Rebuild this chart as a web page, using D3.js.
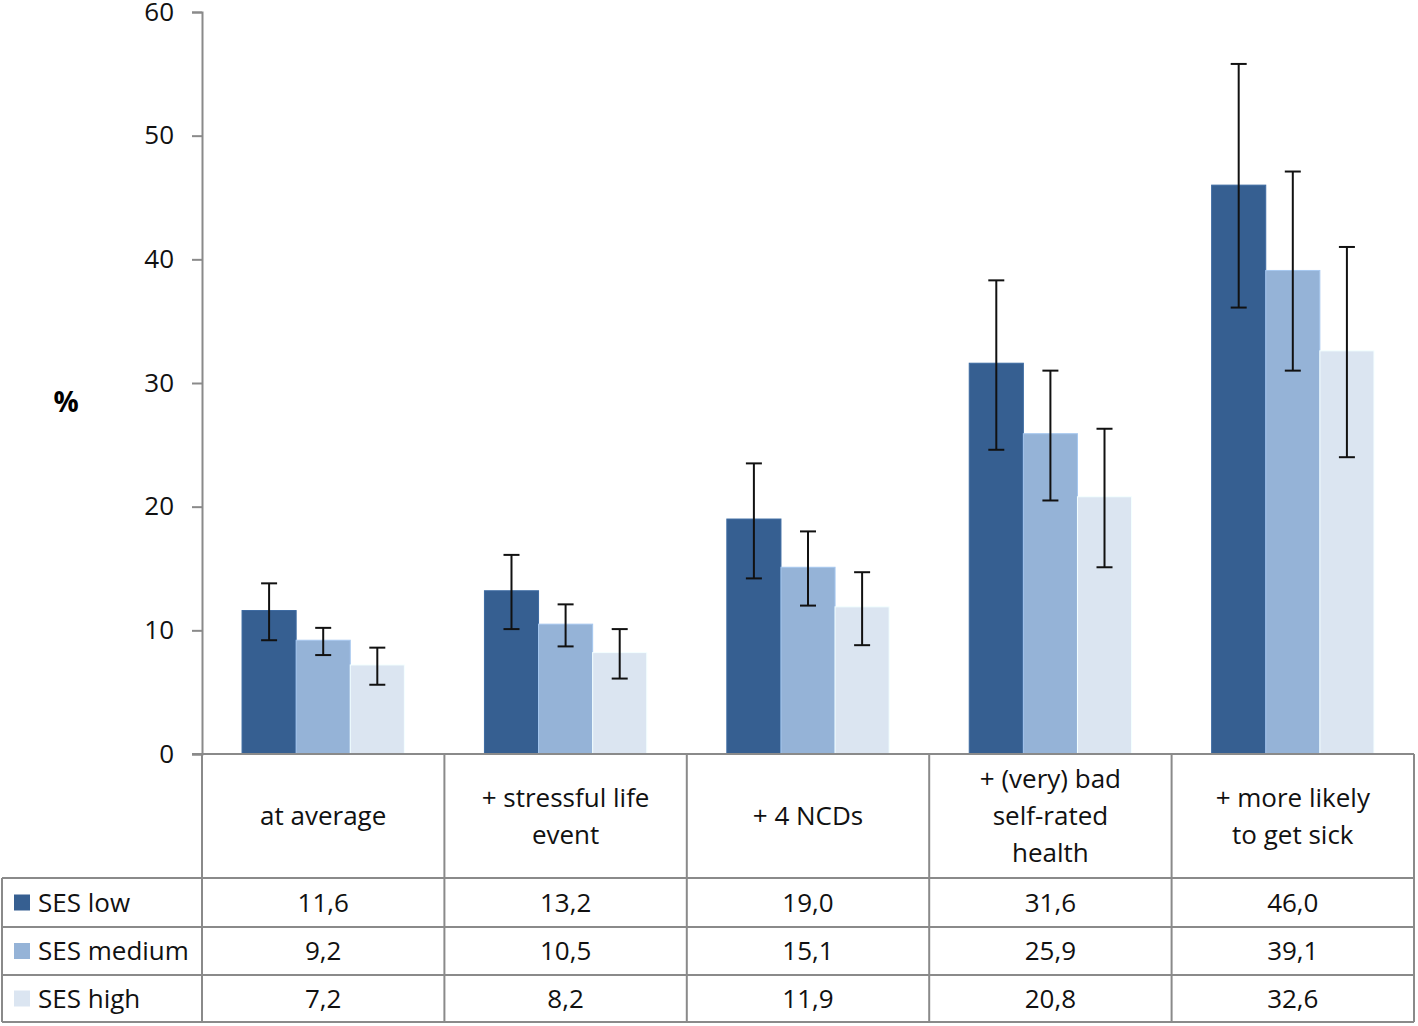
<!DOCTYPE html>
<html><head><meta charset="utf-8">
<script src="https://cdn.jsdelivr.net/npm/d3@7"></script>
<style>body{margin:0;background:#fff}svg{display:block;font-family:"Open Sans","Noto Sans",sans-serif}</style>
</head><body><svg id="c" width="1418" height="1026"></svg>
<script>
const categories = ["at average", "+ stressful life event", "+ 4 NCDs", "+ (very) bad self-rated health", "+ more likely to get sick"];
const categoryLines = [["at average"], ["+ stressful life", "event"], ["+ 4 NCDs"], ["+ (very) bad", "self-rated", "health"], ["+ more likely", "to get sick"]];
const seriesNames = ["SES low", "SES medium", "SES high"];
const sesLow = [11.6, 13.2, 19.0, 31.6, 46.0];
const sesMedium = [9.2, 10.5, 15.1, 25.9, 39.1];
const sesHigh = [7.2, 8.2, 11.9, 20.8, 32.6];
const lowUpper = [13.8, 16.1, 23.5, 38.3, 55.8];
const lowLower = [9.2, 10.1, 14.2, 24.6, 36.1];
const medUpper = [10.2, 12.1, 18.0, 31.0, 47.1];
const medLower = [8.0, 8.7, 12.0, 20.5, 31.0];
const highUpper = [8.6, 10.1, 14.7, 26.3, 41.0];
const highLower = [5.6, 6.1, 8.8, 15.1, 24.0];
const yTicks = [0, 10, 20, 30, 40, 50, 60];
const colors = ["#365f91", "#95b3d7", "#dbe5f1"];

const series = [
  {name: seriesNames[0], values: sesLow, up: lowUpper, lo: lowLower},
  {name: seriesNames[1], values: sesMedium, up: medUpper, lo: medLower},
  {name: seriesNames[2], values: sesHigh, up: highUpper, lo: highLower}
];

const svg = d3.select("#c");
const mLeft = 202, mRight = 1414, mTop = 12, zeroY = 754;
const fs = 26;
const x = d3.scaleBand().domain(categories).range([mLeft, mRight]).paddingInner(0).paddingOuter(0);
const xs = d3.scaleBand().domain(seriesNames).range([0, x.bandwidth()]).paddingOuter(0.74).paddingInner(0);
const y = d3.scaleLinear().domain([0, 60]).range([zeroY, mTop]);
const grid = "#8a8a8a";
const fmt = v => d3.format(".1f")(v).replace(".", ",");

// bars
series.forEach((s, si) => {
  svg.append("g").selectAll("rect").data(categories).join("rect")
    .attr("x", c => x(c) + xs(s.name))
    .attr("y", (c, i) => y(s.values[i]))
    .attr("width", xs.bandwidth())
    .attr("height", (c, i) => y(0) - y(s.values[i]))
    .attr("fill", colors[si])
    .attr("stroke", d3.color(colors[si]).brighter(0.3))
    .attr("stroke-width", 1);
});
// error bars
series.forEach((s, si) => {
  const g = svg.append("g").attr("stroke", "#111").attr("stroke-width", 2);
  categories.forEach((c, i) => {
    const cx = x(c) + xs(s.name) + xs.bandwidth() / 2;
    g.append("line").attr("x1", cx).attr("x2", cx).attr("y1", y(s.up[i])).attr("y2", y(s.lo[i]));
    g.append("line").attr("x1", cx - 8).attr("x2", cx + 8).attr("y1", y(s.up[i])).attr("y2", y(s.up[i]));
    g.append("line").attr("x1", cx - 8).attr("x2", cx + 8).attr("y1", y(s.lo[i])).attr("y2", y(s.lo[i]));
  });
});

// y axis
const yAxis = d3.axisLeft(y).tickValues(yTicks).tickSize(10).tickPadding(18);
const ga = svg.append("g").attr("transform", `translate(${mLeft},0)`).call(yAxis);
ga.select(".domain").attr("stroke", grid).attr("stroke-width", 2);
ga.selectAll(".tick line").attr("stroke", grid).attr("stroke-width", 2);
ga.selectAll(".tick text").attr("font-size", fs).attr("fill", "#111").attr("font-family", "Open Sans");

svg.append("text").attr("x", 66).attr("y", 401).attr("text-anchor", "middle").attr("dominant-baseline", "central")
  .attr("font-size", 28).attr("font-weight", "bold").attr("fill", "#000").text("%");

// table
const rowTops = [878, 927, 975];
const rowH = [49, 48, 47];
const tbl = svg.append("g");
const tableBottom = 1022;
tbl.append("line").attr("x1", mLeft - 10).attr("x2", mRight).attr("y1", zeroY).attr("y2", zeroY).attr("stroke", grid).attr("stroke-width", 2);
categories.forEach(c => {
  tbl.append("line").attr("x1", x(c)).attr("x2", x(c)).attr("y1", zeroY).attr("y2", tableBottom).attr("stroke", grid).attr("stroke-width", 2);
});
tbl.append("line").attr("x1", mRight).attr("x2", mRight).attr("y1", zeroY).attr("y2", tableBottom).attr("stroke", grid).attr("stroke-width", 2);
tbl.append("line").attr("x1", 2).attr("x2", 2).attr("y1", rowTops[0]).attr("y2", tableBottom).attr("stroke", grid).attr("stroke-width", 2);
[...rowTops, tableBottom].forEach(ry => {
  tbl.append("line").attr("x1", 2).attr("x2", mRight).attr("y1", ry).attr("y2", ry).attr("stroke", grid).attr("stroke-width", 2);
});
categories.forEach((c, i) => {
  const lines = categoryLines[i];
  const lh = 37;
  const cy = (zeroY + rowTops[0]) / 2;
  const t = tbl.append("text").attr("text-anchor", "middle").attr("font-size", fs).attr("fill", "#111");
  lines.forEach((l, k) => {
    t.append("tspan").attr("x", x(c) + x.bandwidth() / 2)
      .attr("y", cy + (k - (lines.length - 1) / 2) * lh).attr("dy", "0.35em").text(l);
  });
});
series.forEach((s, si) => {
  const cy = rowTops[si] + rowH[si] / 2;
  tbl.append("rect").attr("x", 14).attr("y", cy - 8).attr("width", 16).attr("height", 16).attr("fill", colors[si]);
  tbl.append("text").attr("x", 38).attr("y", cy).attr("dy", "0.35em").attr("font-size", fs).attr("fill", "#111").text(s.name);
  categories.forEach((c, i) => {
    tbl.append("text").attr("x", x(c) + x.bandwidth() / 2).attr("y", cy).attr("dy", "0.35em")
      .attr("text-anchor", "middle").attr("font-size", fs).attr("fill", "#111").text(fmt(s.values[i]));
  });
});
</script></body></html>
